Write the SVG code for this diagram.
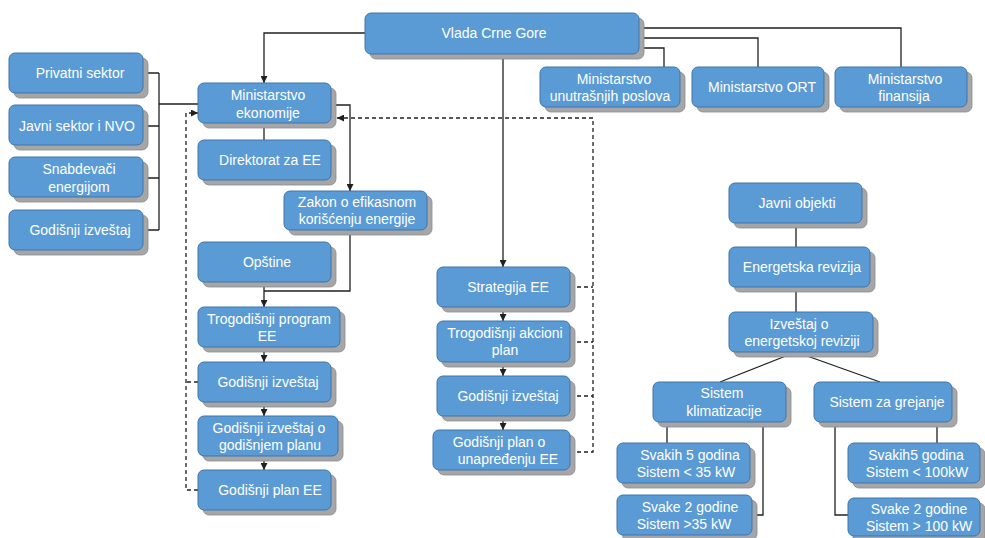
<svg xmlns="http://www.w3.org/2000/svg" width="985" height="538" viewBox="0 0 985 538">
<style>
.sh{fill:#a6a6a8;stroke:#8a8a8c;stroke-width:0.8}
.bx{fill:#5b9bd5;stroke:#3f74a8;stroke-width:1}
text{font-family:"Liberation Sans",Arial,sans-serif;font-size:14px;fill:#ffffff;text-anchor:middle}
.ln{fill:none;stroke:#231f20;stroke-width:1.3}
.ds{fill:none;stroke:#231f20;stroke-width:1.3;stroke-dasharray:4 3}
</style>
<defs>
<marker id="ah" viewBox="0 0 10 10" refX="10" refY="5" markerWidth="7" markerHeight="7" markerUnits="userSpaceOnUse" orient="auto">
<path d="M0,0 L10,5 L0,10 z" fill="#231f20"/>
</marker>
</defs>
<rect width="985" height="538" fill="#ffffff"/>
<g id="connectors">
<path class="ln" d="M365,33 H264 V83" marker-end="url(#ah)"/>
<path class="ln" d="M503,54 V267" marker-end="url(#ah)"/>
<path class="ln" d="M639,48 H664 V67"/>
<path class="ln" d="M639,38 H758 V67"/>
<path class="ln" d="M639,28 H901 V67"/>
<path class="ln" d="M143,73 H159 M143,126 H159 M143,178 H159 M143,230 H159 M159,73 V230 M159,104 H198"/>
<path class="ln" d="M264,123 V140"/>
<path class="ln" d="M331,105 H350 V191" marker-end="url(#ah)"/>
<path class="ln" d="M350,230 V291 H264"/>
<path class="ln" d="M264,282 V307" marker-end="url(#ah)"/>
<path class="ln" d="M264,347 V362" marker-end="url(#ah)"/>
<path class="ln" d="M264,402 V416" marker-end="url(#ah)"/>
<path class="ln" d="M264,456 V470" marker-end="url(#ah)"/>
<path class="ds" d="M198,490 H186 V113 H198" marker-end="url(#ah)"/>
<path class="ds" d="M198,382 H186"/>
<path class="ds" d="M570,287 H593 M570,342 H593 M570,396 H593"/>
<path class="ds" d="M570,452 H593 V118 H337" marker-end="url(#ah)"/>
<path class="ln" d="M503,307 V321" marker-end="url(#ah)"/>
<path class="ln" d="M503,362 V376" marker-end="url(#ah)"/>
<path class="ln" d="M503,416 V430" marker-end="url(#ah)"/>
<path class="ln" d="M796,223 V247 M796,287 V312 M796,352 L720,382 M796,352 L880,382"/>
<path class="ln" d="M667,422 V443 M763,422 V515 H752"/>
<path class="ln" d="M937,422 V443 M835,422 V515 H848"/>
</g>
<g id="vlada"><rect class="sh" x="370" y="18" width="274" height="41" rx="6"/><rect class="bx" x="365" y="13" width="274" height="41" rx="6"/><text x="494" y="38">Vlada Crne Gore</text></g>
<g id="min-unutrasnjih"><rect class="sh" x="545" y="72" width="140" height="40" rx="6"/><rect class="bx" x="540" y="67" width="140" height="40" rx="6"/><text x="614" y="84">Ministarstvo</text><text x="610" y="101">unutrašnjih poslova</text></g>
<g id="min-ort"><rect class="sh" x="697" y="72" width="132" height="40" rx="6"/><rect class="bx" x="692" y="67" width="132" height="40" rx="6"/><text x="762" y="92">Ministarstvo ORT</text></g>
<g id="min-finansija"><rect class="sh" x="840" y="72" width="132" height="40" rx="6"/><rect class="bx" x="835" y="67" width="132" height="40" rx="6"/><text x="905" y="84">Ministarstvo</text><text x="904" y="101">finansija</text></g>
<g id="privatni"><rect class="sh" x="14" y="58" width="134" height="40" rx="6"/><rect class="bx" x="9" y="53" width="134" height="40" rx="6"/><text x="80" y="78">Privatni sektor</text></g>
<g id="javni"><rect class="sh" x="14" y="110" width="134" height="40" rx="6"/><rect class="bx" x="9" y="105" width="134" height="40" rx="6"/><text x="77" y="131">Javni sektor i NVO</text></g>
<g id="snabdevaci"><rect class="sh" x="14" y="162" width="134" height="40" rx="6"/><rect class="bx" x="9" y="157" width="134" height="40" rx="6"/><text x="79" y="174">Snabdevači</text><text x="79" y="192">energijom</text></g>
<g id="godisnji-levo"><rect class="sh" x="14" y="215" width="134" height="40" rx="6"/><rect class="bx" x="9" y="210" width="134" height="40" rx="6"/><text x="80" y="235">Godišnji izveštaj</text></g>
<g id="min-ekonomije"><rect class="sh" x="203" y="88" width="133" height="40" rx="6"/><rect class="bx" x="198" y="83" width="133" height="40" rx="6"/><text x="268" y="100">Ministarstvo</text><text x="268" y="118">ekonomije</text></g>
<g id="direktorat"><rect class="sh" x="203" y="145" width="133" height="40" rx="6"/><rect class="bx" x="198" y="140" width="133" height="40" rx="6"/><text x="270" y="165">Direktorat za EE</text></g>
<g id="zakon"><rect class="sh" x="289" y="196" width="143" height="39" rx="6"/><rect class="bx" x="284" y="191" width="143" height="39" rx="6"/><text x="357" y="207">Zakon o efikasnom</text><text x="357" y="224">korišćenju energije</text></g>
<g id="opstine"><rect class="sh" x="203" y="247" width="133" height="40" rx="6"/><rect class="bx" x="198" y="242" width="133" height="40" rx="6"/><text x="267" y="267">Opštine</text></g>
<g id="trogodisnji-program"><rect class="sh" x="203" y="312" width="142" height="40" rx="6"/><rect class="bx" x="198" y="307" width="142" height="40" rx="6"/><text x="269" y="324">Trogodišnji program</text><text x="267" y="341">EE</text></g>
<g id="godisnji-izvestaj-1"><rect class="sh" x="203" y="367" width="133" height="40" rx="6"/><rect class="bx" x="198" y="362" width="133" height="40" rx="6"/><text x="268" y="387">Godišnji izveštaj</text></g>
<g id="godisnji-izvestaj-plan"><rect class="sh" x="203" y="421" width="140" height="40" rx="6"/><rect class="bx" x="198" y="416" width="140" height="40" rx="6"/><text x="269" y="433">Godišnji izveštaj o</text><text x="270" y="450">godišnjem planu</text></g>
<g id="godisnji-plan-ee"><rect class="sh" x="203" y="475" width="133" height="40" rx="6"/><rect class="bx" x="198" y="470" width="133" height="40" rx="6"/><text x="270" y="495">Godišnji plan EE</text></g>
<g id="strategija"><rect class="sh" x="442" y="272" width="133" height="40" rx="6"/><rect class="bx" x="437" y="267" width="133" height="40" rx="6"/><text x="508" y="292">Strategija EE</text></g>
<g id="akcioni-plan"><rect class="sh" x="442" y="326" width="133" height="41" rx="6"/><rect class="bx" x="437" y="321" width="133" height="41" rx="6"/><text x="505" y="338">Trogodišnji akcioni</text><text x="505" y="355">plan</text></g>
<g id="godisnji-izvestaj-2"><rect class="sh" x="442" y="381" width="133" height="40" rx="6"/><rect class="bx" x="437" y="376" width="133" height="40" rx="6"/><text x="508" y="401">Godišnji izveštaj</text></g>
<g id="plan-unapredjenju"><rect class="sh" x="438" y="435" width="137" height="40" rx="6"/><rect class="bx" x="433" y="430" width="137" height="40" rx="6"/><text x="499" y="447">Godišnji plan o</text><text x="508" y="464">unapređenju EE</text></g>
<g id="javni-objekti"><rect class="sh" x="734" y="188" width="133" height="40" rx="6"/><rect class="bx" x="729" y="183" width="133" height="40" rx="6"/><text x="797" y="208">Javni objekti</text></g>
<g id="energetska-revizija"><rect class="sh" x="734" y="252" width="141" height="40" rx="6"/><rect class="bx" x="729" y="247" width="141" height="40" rx="6"/><text x="802" y="272">Energetska revizija</text></g>
<g id="izvestaj-revizija"><rect class="sh" x="734" y="317" width="144" height="40" rx="6"/><rect class="bx" x="729" y="312" width="144" height="40" rx="6"/><text x="799" y="329">Izveštaj o</text><text x="802" y="346">energetskoj reviziji</text></g>
<g id="sistem-klimatizacije"><rect class="sh" x="658" y="387" width="133" height="40" rx="6"/><rect class="bx" x="653" y="382" width="133" height="40" rx="6"/><text x="722" y="398">Sistem</text><text x="724" y="416">klimatizacije</text></g>
<g id="sistem-grejanje"><rect class="sh" x="819" y="387" width="138" height="40" rx="6"/><rect class="bx" x="814" y="382" width="138" height="40" rx="6"/><text x="887" y="407">Sistem za grejanje</text></g>
<g id="klima-5"><rect class="sh" x="622" y="448" width="133" height="40" rx="6"/><rect class="bx" x="617" y="443" width="133" height="40" rx="6"/><text x="690" y="460">Svakih 5 godina</text><text x="686" y="477">Sistem &lt; 35 kW</text></g>
<g id="klima-2"><rect class="sh" x="622" y="500" width="135" height="40" rx="6"/><rect class="bx" x="617" y="495" width="135" height="40" rx="6"/><text x="690" y="512">Svake 2 godine</text><text x="684" y="529">Sistem &gt;35 kW</text></g>
<g id="grejanje-5"><rect class="sh" x="853" y="448" width="132" height="40" rx="6"/><rect class="bx" x="848" y="443" width="132" height="40" rx="6"/><text x="916" y="460">Svakih5 godina</text><text x="917" y="477">Sistem &lt; 100kW</text></g>
<g id="grejanje-2"><rect class="sh" x="853" y="503" width="132" height="40" rx="6"/><rect class="bx" x="848" y="498" width="132" height="38" rx="6"/><text x="919" y="514">Svake 2 godine</text><text x="919" y="531">Sistem &gt; 100 kW</text></g>
</svg>
